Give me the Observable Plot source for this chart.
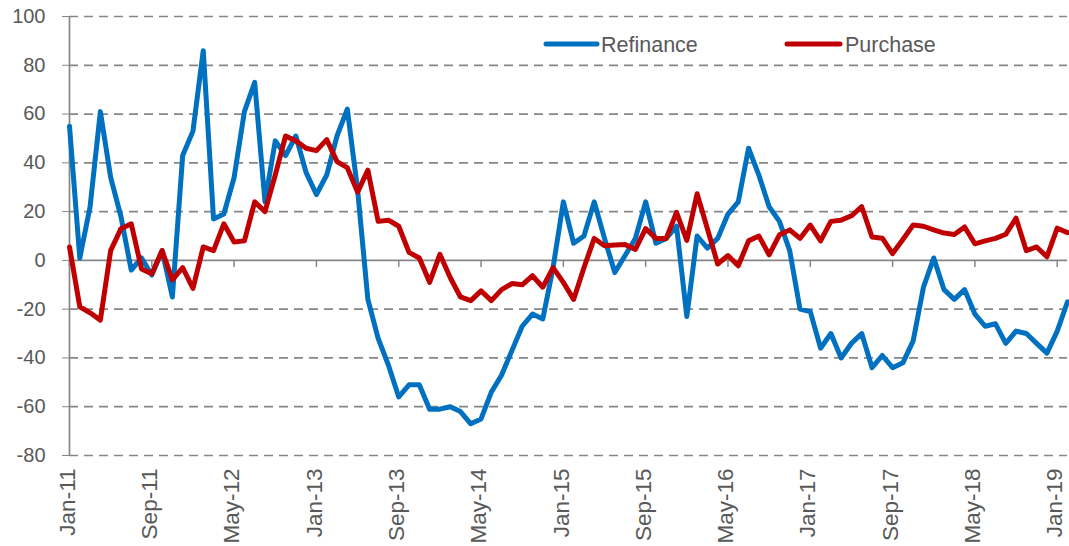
<!DOCTYPE html>
<html><head><meta charset="utf-8">
<script src="https://cdn.jsdelivr.net/npm/d3@7"></script>
<script src="https://cdn.jsdelivr.net/npm/@observablehq/plot@0.6"></script>
<style>body{margin:0;background:#fff;} #chart{width:1069px;height:546px;}</style>
</head><body><div id="chart"></div>
<script>
// Monthly, Jan-11 .. Feb-19 (98 points)
const refinance = [55, 1, 22, 61, 34, 18, -4, 1, -6, 4,
  -15, 43, 53, 86, 17, 19, 34, 61, 73, 24,
  49, 43, 51, 36, 27, 35, 51, 62, 29, -16,
  -32, -43, -56, -51, -51, -61, -61, -60, -62, -67,
  -65, -54, -47, -37, -27, -22, -24, -3, 24, 7,
  10, 24, 9, -5, 2, 9, 24, 7, 9, 14,
  -23, 10, 5, 9, 19, 24, 46, 35, 22, 16,
  4, -20, -21, -36, -30, -40, -34, -30, -44, -39,
  -44, -42, -33, -11, 1, -12, -16, -12, -22, -27,
  -26, -34, -29, -30, -34, -38, -29, -17];
const purchase = [5.5, -19, -21.5, -24.5, 4, 13, 15, -3.5, -5.5, 4,
  -8, -3, -11.5, 5.5, 4, 15, 7.5, 8, 24, 20,
  35, 51, 49, 46, 45, 49.5, 40.5, 38, 28, 37,
  16, 16.5, 14, 3.3, 1, -9, 2.5, -7, -15, -16.5,
  -12.5, -16.5, -12, -9.5, -10, -6.3, -11, -3, -9, -16,
  -3, 9, 6, 6.3, 6.5, 4.5, 13, 9, 9, 19.7,
  8.2, 27.3, 13, -1.5, 2, -2.2, 8, 10, 2.3, 10.5,
  12.5, 9, 14.5, 8, 16, 16.5, 18.3, 22, 9.6, 9.1,
  2.8, 8.6, 14.5, 14, 12.5, 11.2, 10.6, 13.7, 6.8, 8,
  9, 10.7, 17.3, 4, 5.5, 1.5, 13.2, 11.4];
const tickLabels = ["Jan-11","Sep-11","May-12","Jan-13","Sep-13","May-14","Jan-15","Sep-15","May-16","Jan-17","Sep-17","May-18","Jan-19"];
const tickStep = 8;
const yTicks = [-80, -60, -40, -20, 0, 20, 40, 60, 80, 100];
const seriesNames = ["Refinance", "Purchase"];
const seriesColors = ["#0070C0", "#C00000"];

const rows = [
  ...refinance.map((v, i) => ({i, v, s: seriesNames[0]})),
  ...purchase.map((v, i) => ({i, v, s: seriesNames[1]}))
];
const tickIdx = tickLabels.map((_, k) => k * tickStep);
const grey = "#868686";
const textColor = "#595959";
const font = "'Liberation Sans', Arial, sans-serif";

const svg = Plot.plot({
  width: 1069, height: 546,
  marginLeft: 69, marginRight: 2, marginTop: 16, marginBottom: 91,
  style: {fontFamily: font, fontSize: "20px", color: textColor, background: "#fff"},
  x: {domain: [0, refinance.length - 1], axis: null},
  y: {domain: [-80, 100], axis: null},
  color: {domain: seriesNames, range: seriesColors},
  marks: [
    Plot.ruleY(yTicks.filter(d => d !== 0), {stroke: grey, strokeWidth: 1.7, strokeDasharray: "9,6"}),
    Plot.ruleY([0], {stroke: grey, strokeWidth: 1.7}),
    Plot.ruleX(tickIdx, {x: d => d, y1: 0, y2: 0, insetBottom: -7, stroke: grey, strokeWidth: 1.5}),
    Plot.ruleX([0], {stroke: grey, strokeWidth: 1.7}),
    Plot.axisY(yTicks, {anchor: "left", label: null, tickSize: 7, tickPadding: 17, stroke: grey, fill: textColor,
      fontSize: 20, tickFormat: d => `${d}`}),
    Plot.text(tickIdx, {x: d => d, y: -80, text: (d, k) => tickLabels[k], rotate: -90,
      textAnchor: "end", dy: 13, dx: -2, fill: textColor, fontSize: 22.5}),
    Plot.line(rows, {x: "i", y: "v", z: "s", stroke: "s", strokeWidth: 5,
      strokeLinejoin: "round", strokeLinecap: "round"})
  ]
});
document.getElementById("chart").appendChild(svg);

// legend inside the plot area
const legendPos = [{x1: 546, x2: 597, tx: 601}, {x1: 787, x2: 840, tx: 845}];
const lg = d3.select(svg).append("g").attr("font-family", font).attr("font-size", 21.5)
  .attr("fill", textColor).attr("text-anchor", "start");
seriesNames.forEach((name, k) => {
  const p = legendPos[k];
  lg.append("line").attr("x1", p.x1).attr("x2", p.x2).attr("y1", 44).attr("y2", 44)
    .attr("stroke", seriesColors[k]).attr("stroke-width", 5).attr("stroke-linecap", "round");
  lg.append("text").attr("x", p.tx).attr("y", 51.5).attr("text-anchor", "start").text(name);
});
</script></body></html>
